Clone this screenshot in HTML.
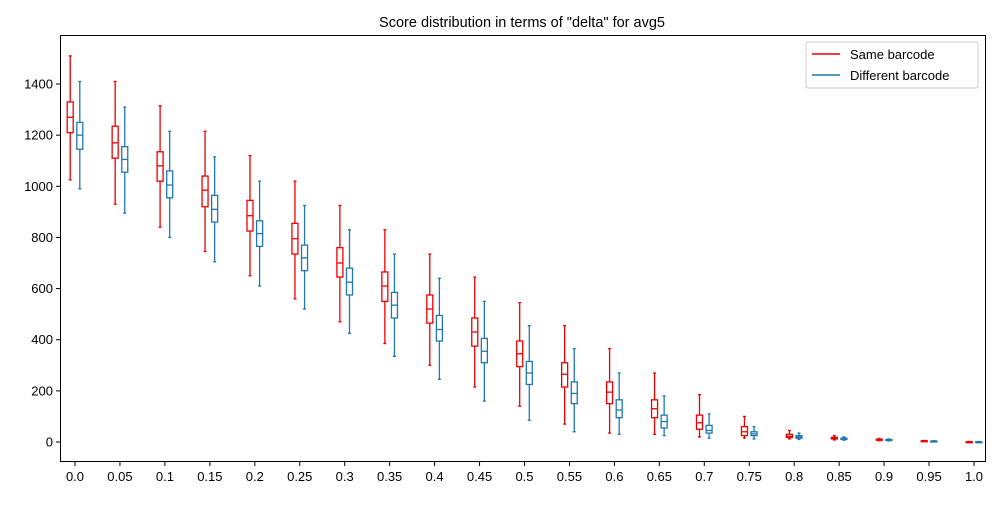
<!DOCTYPE html>
<html><head><meta charset="utf-8"><style>
body{margin:0;background:#fff;font-family:"Liberation Sans",sans-serif}
svg text{font-family:"Liberation Sans",sans-serif}
</style></head><body>
<svg id="chart" width="1000" height="500" xmlns="http://www.w3.org/2000/svg">
<text x="522" y="27" font-size="14.5" text-anchor="middle">Score distribution in terms of "delta" for avg5</text>
<g id="marks"></g>
<rect x="60.5" y="35.5" width="925" height="426" fill="none" stroke="#000" stroke-width="1"/>
<g>
<rect x="806" y="42" width="172" height="46" fill="#fff" stroke="#ccc" rx="2"/>
<line x1="812" y1="54" x2="840" y2="54" stroke="#e00" stroke-width="1.5"/>
<text x="850" y="59" font-size="13">Same barcode</text>
<line x1="812" y1="75" x2="840" y2="75" stroke="#1f77b4" stroke-width="1.5"/>
<text x="850" y="80" font-size="13">Different barcode</text>
</g>
</svg>
<script>
const categories=["0.0","0.05","0.1","0.15","0.2","0.25","0.3","0.35","0.4","0.45","0.5","0.55","0.6","0.65","0.7","0.75","0.8","0.85","0.9","0.95","1.0"];
const yTicks=[0,200,400,600,800,1000,1200,1400];
const sameStats=[[1025,1210,1270,1330,1510],[930,1110,1170,1235,1410],[840,1020,1080,1135,1315],[745,920,985,1040,1215],[650,825,885,945,1120],[560,735,795,855,1020],[470,645,700,760,925],[385,550,610,665,830],[300,465,520,575,735],[215,375,430,485,645],[140,295,345,395,545],[70,215,265,310,455],[35,150,195,235,365],[30,95,130,165,270],[20,50,75,105,185],[15,25,40,60,100],[12,18,22,30,45],[8,12,15,18,25],[5,7,9,11,14],[2,3,4,5,6],[0,1,1,1,2]];
const diffStats=[[990,1145,1200,1250,1410],[895,1055,1105,1155,1310],[800,955,1005,1060,1215],[705,860,910,965,1115],[610,765,815,865,1020],[520,670,720,770,925],[425,575,625,680,830],[335,485,535,585,735],[245,395,440,495,640],[160,310,355,405,550],[85,225,270,315,455],[40,150,190,235,365],[30,95,125,165,270],[25,55,80,105,180],[15,35,45,65,110],[12,25,32,40,60],[10,15,20,25,35],[7,10,12,15,20],[4,6,8,10,12],[2,3,3,4,5],[0,1,1,1,2]];
const NS="http://www.w3.org/2000/svg";
const svg=document.getElementById('chart');
const g=document.getElementById('marks');
function xPos(i){return 75+i*44.95;}
function yPos(v){return 442-v*0.2557;}
function mk(tag,attrs,parent){const e=document.createElementNS(NS,tag);for(const k in attrs)e.setAttribute(k,attrs[k]);(parent||g).appendChild(e);return e;}
yTicks.forEach(t=>{
  const y=yPos(t);
  const tk=mk('line',{x1:56,x2:60,y1:y,y2:y,stroke:'#000'});
  
  
  const tx=mk('text',{x:53,y:y+4.5,'font-size':13,'text-anchor':'end'});
  tx.textContent=t;
  
  
});
categories.forEach((c,i)=>{
  const x=xPos(i);
  const tk=mk('line',{x1:x,x2:x,y1:462,y2:466,stroke:'#000'});
  
  
  const tx=mk('text',{x:x,y:481,'font-size':13,'text-anchor':'middle'});
  tx.textContent=c;
  
  
});
function drawBox(s,cx,color,name){
  const grp=mk('g',{stroke:color,'stroke-width':1.3,fill:'none'});
  
  
  const [lo,q1,md,q3,hi]=s.map(yPos);
  mk('line',{x1:cx,x2:cx,y1:hi,y2:q3},grp);
  mk('line',{x1:cx,x2:cx,y1:q1,y2:lo},grp);
  mk('line',{x1:cx-1.5,x2:cx+1.5,y1:hi,y2:hi},grp);
  mk('line',{x1:cx-1.5,x2:cx+1.5,y1:lo,y2:lo},grp);
  mk('rect',{x:cx-3,y:q3,width:6,height:Math.max(q1-q3,1)},grp);
  mk('line',{x1:cx-3,x2:cx+3,y1:md,y2:md},grp);
}
categories.forEach((c,i)=>{
  drawBox(sameStats[i],xPos(i)-4.8,'#e00','box-same-'+c);
  drawBox(diffStats[i],xPos(i)+4.8,'#1f77b4','box-diff-'+c);
});
</script>
</body></html>
